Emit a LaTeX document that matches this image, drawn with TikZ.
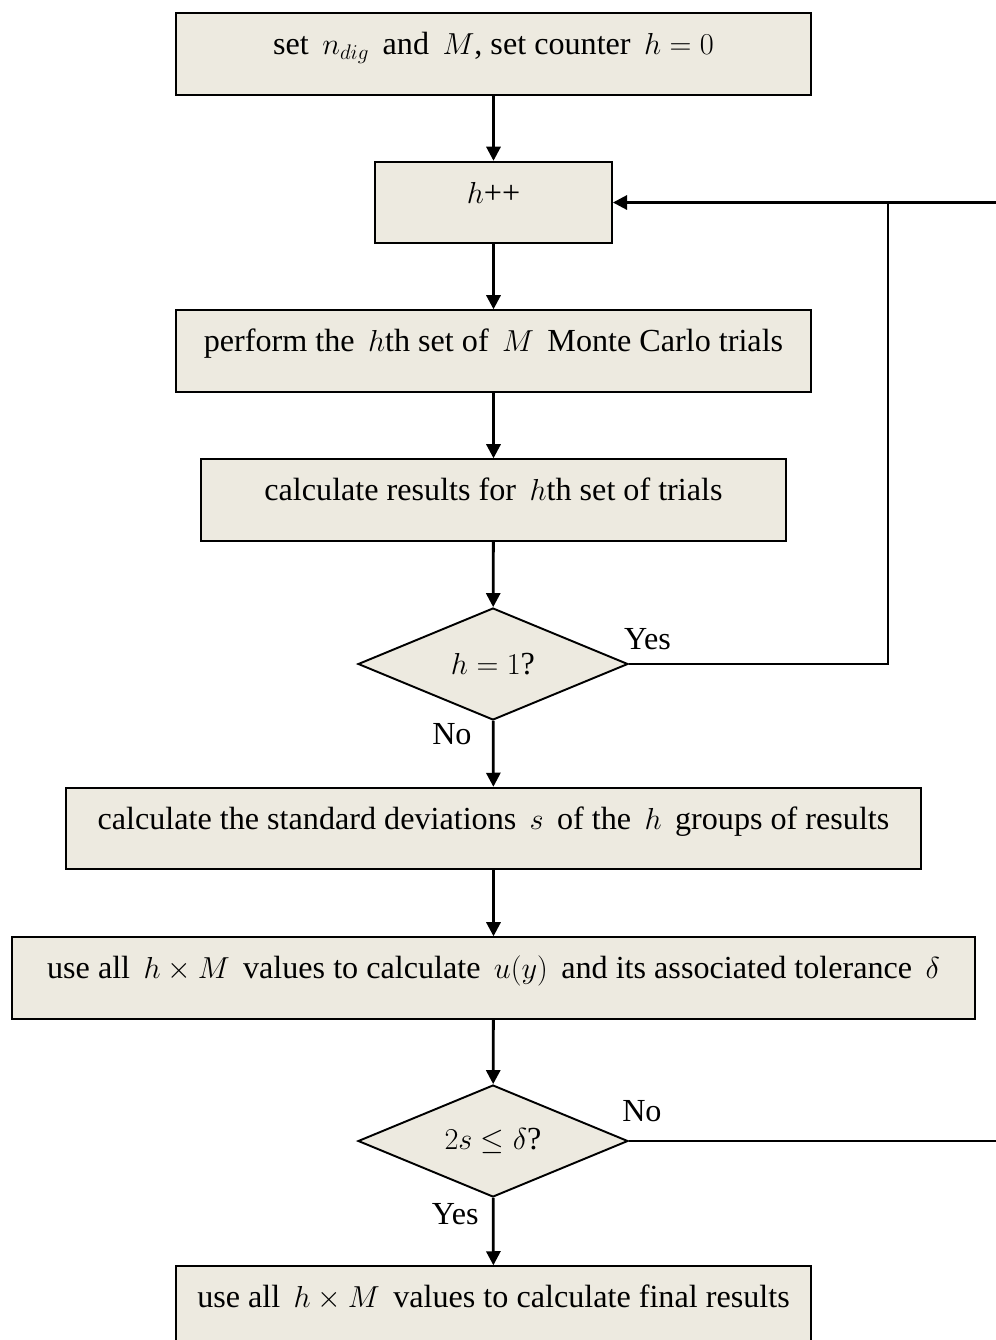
\documentclass[tikz,border=0pt]{standalone}
\usepackage{fontspec}
\setmainfont{Liberation Serif}
\usetikzlibrary{shapes.geometric,arrows.meta}
\definecolor{boxfill}{RGB}{237,234,224}

\begin{document}
\begin{tikzpicture}[x=0.02cm, y=-0.02cm,
    font=\fontsize{18.3}{22}\selectfont,
    box/.style={draw, line width=1.1pt, fill=boxfill, minimum height=1.63cm,
        text height=14pt, text depth=13pt, inner sep=0pt},
    decision/.style={diamond, draw, line width=1.1pt, fill=boxfill, aspect=2.4,
        minimum width=5.4cm, minimum height=2.24cm, inner sep=0pt},
    flow/.style={line width=1.6pt, -{Triangle[length=8pt,width=8pt]}},
    plain/.style={line width=1.6pt}]
    \path[use as bounding box, clip] (0,0) rectangle (996,1340);

    % Process boxes and decisions
    \node[box, minimum width=12.7cm] (start) at (493.5,54) {set \,$n_{dig}$\, and \,$M$, set counter \,$h=0$};
    \node[box, minimum width=4.74cm] (inc) at (493.5,202.5) {$h$++};
    \node[box, minimum width=12.7cm] (trials) at (493.5,351) {perform the \,$h$th set of \,$M$\, Monte Carlo trials};
    \node[box, minimum width=11.7cm] (results) at (493.5,500) {calculate results for \,$h$th set of trials};
    \node[decision] (first) at (493,664) {$h=1$?};
    \node[box, minimum width=17.1cm] (stdev) at (493.5,828.5) {calculate the standard deviations \,$s$\, of the \,$h$\, groups of results};
    \node[box, minimum width=19.26cm] (tol) at (493.5,978) {use all \,$h\times M$\, values to calculate \,$u(y)$\, and its associated tolerance \,$\delta$};
    \node[decision] (stable) at (493,1141) {$2s\leq\delta$?};
    \node[box, minimum width=12.7cm] (final) at (493.5,1307) {use all \,$h\times M$\, values to calculate final results};

    % Main flow
    \draw[flow] (start) -- (inc);
    \draw[flow] (inc) -- (trials);
    \draw[flow] (trials) -- (results);
    \draw[flow] (results) -- (first);
    \draw[flow] (first) -- (stdev);
    \draw[flow] (stdev) -- (tol);
    \draw[flow] (tol) -- (stable);
    \draw[flow] (stable) -- (final);

    % Loop back to h++
    \coordinate (loop) at (888,202.5);
    \coordinate (backin) at (996,202.5);
    \coordinate (backout) at (996,1141);
    \draw[flow] (first.east) -| (loop) -- (inc.east);
    \draw[plain] (backin) -- (loop);
    \draw[plain] (stable.east) -- (backout);

    % Branch labels
    \node[anchor=south west, inner sep=2pt] at ([xshift=-5pt,yshift=6pt]first.east) {Yes};
    \node[anchor=north east, inner sep=2pt] at ([xshift=-10pt,yshift=1pt]first.south) {No};
    \node[anchor=south west, inner sep=2pt] at ([xshift=-6pt,yshift=9pt]stable.east) {No};
    \node[anchor=north east, inner sep=2pt] at ([xshift=-6pt,yshift=-1pt]stable.south) {Yes};
\end{tikzpicture}
\end{document}
